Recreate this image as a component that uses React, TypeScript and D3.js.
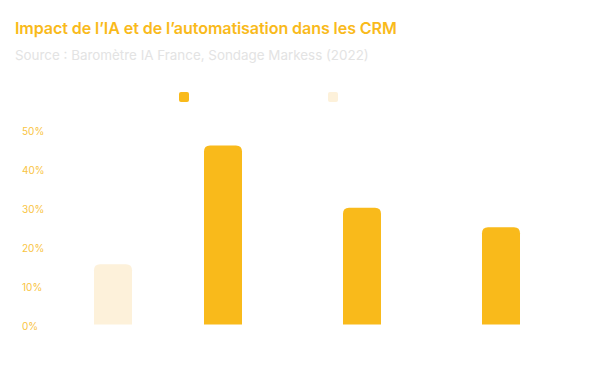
import React from "react";
import * as d3 from "d3";

const categories = ["c1", "c2", "c3", "c4"];
const seriesNames = ["s1", "s2"];
const series1Values: (number | null)[] = [null, 46, 30, 25];
const series2Values: (number | null)[] = [15.5, null, null, null];
const yTicks = [0, 10, 20, 30, 40, 50];
const colors = ["#F9BA1B", "#FDF1DA"];

const W = 600;
const H = 386;

function roundedTopBar(x: number, y: number, w: number, h: number, r: number) {
  const rr = Math.min(r, h, w / 2);
  return `M${x},${y + h}V${y + rr}Q${x},${y} ${x + rr},${y}H${x + w - rr}Q${x + w},${y} ${x + w},${y + rr}V${y + h}Z`;
}

export default function App() {
  const y = d3.scaleLinear().domain([0, 50]).range([324.5, 130]);
  const x0 = d3.scaleBand<string>().domain(categories).range([29, 585]).padding(0);
  const x1 = d3.scalePoint<string>().domain(seriesNames).range([-14.5, 14.5]);
  const barW = 38;
  const allSeries = [series1Values, series2Values];

  return (
    <svg width={W} height={H} style={{ position: "absolute", left: 0, top: 0, fontFamily: "Inter, 'Noto Sans', sans-serif" }}>
      <rect width={W} height={H} fill="#ffffff" />
      <text x={15} y={34} fontSize={16.1} fontWeight={600} fill="#F9BA1B" letterSpacing={-0.1}>
        Impact de l’IA et de l’automatisation dans les CRM
      </text>
      <text x={15} y={60} fontSize={13.4} fill="#E3E3E3">
        Source : Baromètre IA France, Sondage Markess (2022)
      </text>
      {/* legend */}
      <rect x={179} y={92} width={10} height={10} rx={2} fill={colors[0]} />
      <rect x={328} y={92} width={10} height={10} rx={2} fill={colors[1]} />
      {/* y axis labels */}
      {yTicks.map((t) => (
        <text key={t} x={22} y={y(t) + 1.5} dy="0.35em" fontSize={10} fill="#F9C43F">
          {t}%
        </text>
      ))}
      {/* bars */}
      {allSeries.map((vals, si) =>
        vals.map((v, ci) => {
          if (v == null) return null;
          const cx = (x0(categories[ci]) as number) + x0.bandwidth() / 2 + (x1(seriesNames[si]) as number);
          const top = y(v);
          return (
            <path
              key={`${si}-${ci}`}
              d={roundedTopBar(cx - barW / 2, top, barW, y(0) - top, 6)}
              fill={colors[si]}
            />
          );
        })
      )}
    </svg>
  );
}
